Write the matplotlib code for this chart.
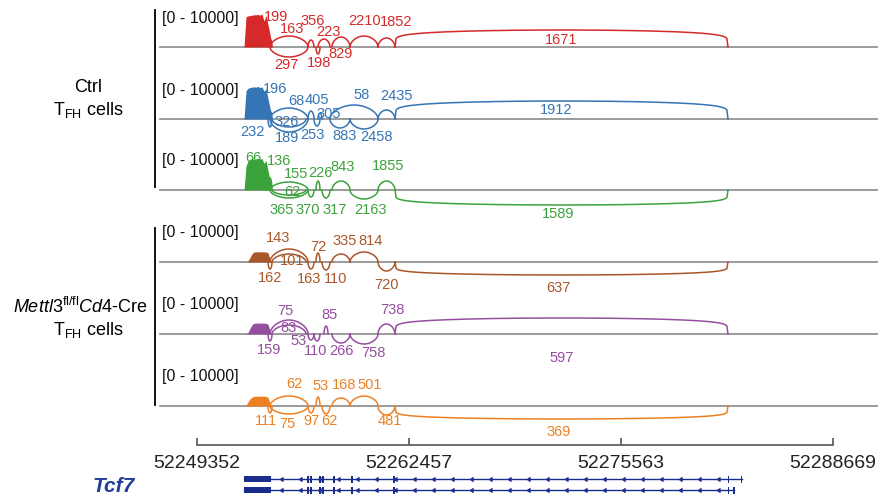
import numpy as np
import matplotlib
matplotlib.use('Agg')
import matplotlib.pyplot as plt
from matplotlib.patches import Rectangle

plt.rcParams['font.family'] = ['Liberation Sans', 'DejaVu Sans']
plt.rcParams['mathtext.fontset'] = 'custom'
plt.rcParams['mathtext.rm'] = 'Liberation Sans'
plt.rcParams['mathtext.it'] = 'Liberation Sans:italic'

# --- data -------------------------------------------------------------
tick_pos = [52249352, 52262457, 52275563, 52288669]
track_range = '[0 - 10000]'
range_max = 10000

cov_pos = [52252286, 52252410, 52252533, 52252657, 52252780, 52252904, 52253027,
           52253151, 52253274, 52253398, 52253521, 52253645, 52253769, 52253892, 52254016]
cov_ctrl1 = [0, 8200, 8400, 8500, 8600, 8700, 8700, 8800, 8600, 8900, 7000, 8500, 6000, 3500, 0]
cov_ctrl2 = [0, 7600, 8300, 8500, 8600, 8700, 8600, 8800, 8500, 8700, 7500, 8200, 5500, 3000, 0]
cov_ctrl3 = [0, 6500, 7800, 8300, 8500, 8200, 8400, 8600, 8300, 8500, 7200, 8000, 5200, 2800, 0]
cov_ko1 = [0, 0, 300, 1200, 2200, 2700, 2750, 2750, 2750, 2750, 2750, 2700, 2500, 800, 0]
cov_ko2 = [0, 0, 400, 1500, 2500, 2900, 2950, 2950, 2950, 2950, 2950, 2900, 2600, 900, 0]
cov_ko3 = [0, 300, 1100, 1900, 2400, 2600, 2650, 2650, 2650, 2650, 2650, 2600, 2300, 700, 0]

# junctions: (start, end, reads, side)  side 1 = drawn above, -1 = below
junc_ctrl1 = [(52253769, 52254016, 199, 1), (52253892, 52256239, 163, 1),
              (52253892, 52256239, 297, -1), (52256239, 52256610, 356, 1),
              (52256734, 52256981, 198, -1), (52256857, 52257598, 223, 1),
              (52257722, 52258834, 829, 1), (52258834, 52260563, 2210, 1),
              (52260563, 52261613, 1852, 1), (52261613, 52282183, 1671, 1)]
junc_ctrl2 = [(52253769, 52254016, 196, 1), (52253892, 52256239, 68, 1),
              (52253769, 52254016, 232, -1), (52254016, 52256116, 326, -1),
              (52253892, 52256239, 189, -1), (52256239, 52256610, 405, 1),
              (52256610, 52256981, 253, -1), (52256857, 52257104, 305, 1),
              (52257598, 52258834, 883, -1), (52258834, 52260563, 2458, -1),
              (52257598, 52260563, 58, 1), (52260563, 52261613, 2435, 1),
              (52261613, 52282183, 1912, 1)]
junc_ctrl3 = [(52253645, 52253892, 66, 1), (52253769, 52254016, 136, 1),
              (52253892, 52256239, 155, 1), (52254016, 52256116, 62, -1),
              (52253892, 52256239, 365, -1), (52256239, 52256610, 370, -1),
              (52256734, 52256981, 226, 1), (52257104, 52257598, 317, -1),
              (52257722, 52258834, 843, 1), (52258834, 52260563, 2163, -1),
              (52260563, 52261613, 1855, 1), (52261613, 52282183, 1589, -1)]
junc_ko1 = [(52253892, 52256239, 143, 1), (52254016, 52256116, 101, 1),
            (52253769, 52254016, 162, -1), (52256239, 52256610, 163, -1),
            (52256734, 52256981, 72, 1), (52257104, 52257598, 110, -1),
            (52257722, 52258834, 335, 1), (52258834, 52260563, 814, 1),
            (52260563, 52261613, 720, -1), (52261613, 52282183, 637, -1)]
junc_ko2 = [(52253892, 52256239, 75, 1), (52254016, 52256116, 83, 1),
            (52253769, 52254016, 159, -1), (52256239, 52256610, 53, -1),
            (52256610, 52256981, 110, -1), (52257228, 52257475, 85, 1),
            (52257722, 52258834, 266, -1), (52258834, 52260563, 758, -1),
            (52260563, 52261613, 738, 1), (52261613, 52282183, 597, 1)]
junc_ko3 = [(52253892, 52256239, 62, 1), (52253769, 52254016, 111, -1),
            (52253892, 52256239, 75, -1), (52256734, 52256981, 53, 1),
            (52256239, 52256610, 97, -1), (52257104, 52257598, 62, -1),
            (52257722, 52258834, 168, 1), (52258834, 52260563, 501, 1),
            (52260563, 52261613, 481, -1), (52261613, 52282183, 369, -1)]

# Tcf7 transcripts, exon blocks (start, end)
tx1_exons = [(52252286, 52253954), (52256178, 52256270), (52256363, 52256425),
             (52256919, 52256981), (52257104, 52257197), (52257784, 52257876),
             (52258896, 52258988), (52261490, 52261644), (52282183, 52282275),
             (52282986, 52283048)]
tx2_exons = [(52252286, 52253954), (52256178, 52256270), (52256363, 52256425),
             (52256919, 52256981), (52257104, 52257197), (52257784, 52257876),
             (52258896, 52258988), (52261490, 52261644), (52282183, 52282275),
             (52282492, 52282553)]
gene_name = 'Tcf7'

# --- styles (arc apex height px, label dx px, label dy px) -------------
sty_ctrl1 = [(8, 6, -30), (11, 3, -18), (10, -3, 18), (7, 2, -26), (7, 1, 16),
             (8, 4, -15), (10, 0, 7), (11, 1, -26), (9, 10, -25), (17, 0, -7)]
sty_ctrl2 = [(8, 5, -30), (11, 7, -18), (8, -18, 13), (8, -2, 3), (13, -2, 19),
             (8, 6, -19), (7, -5, 16), (6, 9, -5), (9, 5, 17), (10, 13, 18),
             (14, 8, -24), (9, 10, -23), (18, -5, -9)]
sty_ctrl3 = [(7, -15, -32), (12, 9, -29), (8, 7, -16), (5, 3, 2), (8, -7, 20),
             (7, -3, 20), (9, 2, -17), (8, 9, 20), (9, 2, -23), (9, 7, 20),
             (9, 2, -24), (15, -3, 24)]
sty_ko1 = [(13, -11, -24), (8, 3, -1), (7, 0, 16), (7, -2, 17), (9, 0, -15),
           (8, 10, 17), (8, 4, -21), (10, 7, -21), (9, 0, 23), (13, -3, 26)]
sty_ko2 = [(14, -4, -23), (9, -1, -6), (7, -1, 16), (6, -12, 7), (7, -1, 17),
           (8, 3, -19), (9, 0, 17), (10, 9, 19), (10, 6, -24), (16, 0, 24)]
sty_ko3 = [(10, 5, -22), (7, -4, 15), (8, -2, 18), (9, 3, -20), (7, 1, 15),
           (8, 3, 15), (8, 3, -21), (10, 6, -21), (9, 3, 15), (13, -3, 26)]

tracks = [
    (cov_ctrl1, junc_ctrl1, sty_ctrl1, '#d62a2a'),
    (cov_ctrl2, junc_ctrl2, sty_ctrl2, '#3575b5'),
    (cov_ctrl3, junc_ctrl3, sty_ctrl3, '#3ca23c'),
    (cov_ko1, junc_ko1, sty_ko1, '#a9572a'),
    (cov_ko2, junc_ko2, sty_ko2, '#944f9e'),
    (cov_ko3, junc_ko3, sty_ko3, '#ee8024'),
]
baselines = [47, 119, 190, 262, 334, 406]
track_px = 37

# pixel layout: axis spans the whole figure, y in pixels, x in genome bp
bp = (tick_pos[-1] - tick_pos[0]) / (833 - 196.5)


def gx(px):
    return tick_pos[0] + (px - 196.5) * bp


fig = plt.figure(figsize=(8.79, 5.0), dpi=100)
ax = fig.add_axes([0, 0, 1, 1])
ax.set_xlim(gx(0), gx(879))
ax.set_ylim(500, 0)
ax.axis('off')

for (cov, juncs, sty, col), base in zip(tracks, baselines):
    ax.plot([gx(160), gx(879)], [base, base], color='#8a8a8a', lw=1.2, zorder=1)
    ax.text(gx(162), base - 29, track_range, ha='left', va='center', fontsize=11.5, color='#111111')
    vals = np.array(cov) / range_max * track_px
    ax.fill_between(cov_pos, base, base - vals, color=col, lw=0, zorder=2)
    for (s, e, n, side), (apex, dx, dy) in zip(juncs, sty):
        u = np.linspace(0, 1, 300)
        p = 0.5 if (e - s) / bp < 100 else 0.15
        y = base - side * apex * np.sin(np.pi * u) ** p
        ax.plot(s + (e - s) * u, y, color=col, lw=1.1, zorder=3)
        ax.text((s + e) / 2 + dx * bp, base + dy, str(n), ha='center', va='center',
                fontsize=10.5, color=col, zorder=4)

# group labels and brackets
ax.plot([gx(155), gx(155)], [10, 187], color='black', lw=1.3)
ax.plot([gx(155), gx(155)], [228, 405], color='black', lw=1.3)
ax.text(gx(88), 87, 'Ctrl', ha='center', va='center', fontsize=13)
ax.text(gx(88), 110, r'T$_{\mathrm{FH}}$ cells', ha='center', va='center', fontsize=13)
ax.text(gx(80), 307, r'$\mathit{Mettl3}^{\mathrm{fl/fl}}\mathit{Cd4}$-Cre', ha='center',
        va='center', fontsize=13)
ax.text(gx(88), 330, r'T$_{\mathrm{FH}}$ cells', ha='center', va='center', fontsize=13)

# genomic axis
ax.plot([tick_pos[0], tick_pos[-1]], [445, 445], color='#555555', lw=1.2)
ax.vlines(tick_pos, 438, 445, color='#555555', lw=1.2)
for t in tick_pos:
    ax.text(t, 464, str(t), ha='center', va='center', fontsize=14, color='#222222')

# gene model
gcol = '#1a2c8c'
for exons, y in [(tx1_exons, 479), (tx2_exons, 490)]:
    x0, x1 = exons[0][0], exons[-1][1]
    ax.plot([x0, x1], [y, y], color=gcol, lw=1)
    for i, (s, e) in enumerate(exons):
        h = 6 if i == 0 else 7
        w = max(e - s, 1.5 * bp)
        ax.add_patch(Rectangle((s, y - h / 2), w, h, color=gcol, lw=0))
    xs = np.arange(exons[0][1] + 12 * bp, x1 - 6 * bp, 19 * bp)
    ax.plot(xs, [y] * len(xs), ls='none', marker=8, ms=2.5, color=gcol)
ax.text(gx(114), 487, gene_name, ha='center', va='center', fontsize=15,
        fontweight='bold', fontstyle='italic', color='#1f3d99')

fig.savefig('out.png', dpi=100)
